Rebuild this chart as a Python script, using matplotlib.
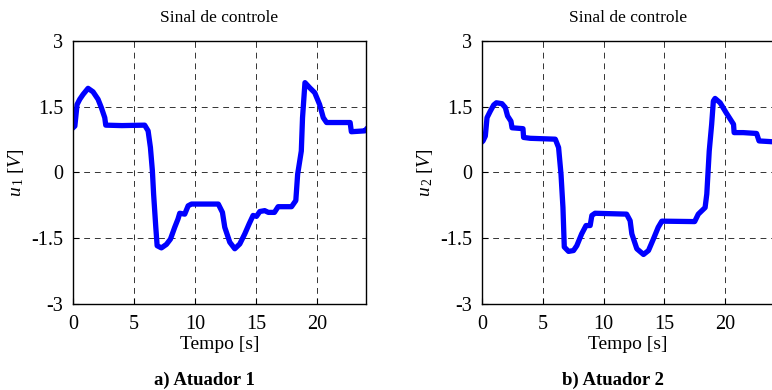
import numpy as np
from matplotlib import pyplot as plt

plt.rcParams['font.family'] = ['Liberation Serif', 'DejaVu Serif']
plt.rcParams['mathtext.fontset'] = 'custom'
plt.rcParams['mathtext.rm'] = 'Liberation Serif'
plt.rcParams['mathtext.it'] = 'Liberation Serif:italic'

# Atuador 1 - control signal
t1 = [0.0, 0.15, 0.33, 0.55, 0.82, 1.23, 1.64, 2.05, 2.32, 2.6, 2.68, 4.0, 5.87,
      6.15, 6.34, 6.5, 6.6, 6.78, 6.89, 7.24, 7.65, 7.98, 8.33, 8.6, 8.74, 9.15,
      9.43, 9.7, 11.9, 12.24, 12.43, 12.84, 13.25, 13.66, 14.07, 14.43, 14.75,
      15.03, 15.3, 15.7, 16.0, 16.5, 16.8, 17.9, 18.25, 18.4, 18.7, 18.8, 19.0,
      19.4, 19.8, 20.2, 20.5, 20.77, 22.7, 22.8, 23.9, 24.0]
u1 = [1.02, 1.06, 1.55, 1.67, 1.78, 1.92, 1.84, 1.67, 1.48, 1.25, 1.08, 1.07, 1.08,
      0.95, 0.57, 0.04, -0.49, -1.25, -1.67, -1.72, -1.64, -1.52, -1.25, -1.06, -0.93, -0.95,
      -0.76, -0.72, -0.72, -0.91, -1.25, -1.59, -1.74, -1.63, -1.40, -1.17, -0.98,
      -1.0, -0.89, -0.87, -0.91, -0.91, -0.78, -0.78, -0.64, -0.04, 0.49, 1.25, 2.05,
      1.93, 1.82, 1.55, 1.25, 1.14, 1.14, 0.93, 0.95, 0.98]

# Atuador 2
t2 = [0.0, 0.08, 0.27, 0.41, 0.68, 0.96, 1.18, 1.64, 1.92, 2.1, 2.38, 2.47, 3.37,
      3.42, 3.97, 6.03, 6.3, 6.5, 6.66, 6.77, 7.12, 7.53, 7.8, 8.2, 8.56, 8.9, 9.04,
      9.3, 11.9, 12.19, 12.33, 12.74, 13.29, 13.7, 14.1, 14.5, 14.8, 17.5, 17.8,
      18.36, 18.5, 18.7, 18.9, 19.04, 19.18, 19.6, 20.1, 20.7, 20.75, 21.5, 22.6,
      22.8, 24.0]
u2 = [0.70, 0.72, 0.83, 1.25, 1.40, 1.54, 1.59, 1.57, 1.48, 1.29, 1.17, 1.02, 1.0,
      0.80, 0.78, 0.76, 0.57, -0.04, -0.80, -1.70, -1.80, -1.78, -1.67, -1.40, -1.21, -1.21, -0.98,
      -0.93, -0.95, -1.10, -1.40, -1.74, -1.87, -1.78, -1.52, -1.25, -1.11, -1.12, -0.95,
      -0.80, -0.49, 0.49, 1.10, 1.63, 1.69, 1.59, 1.36, 1.10, 0.91, 0.91, 0.89,
      0.72, 0.70]

xticks = [0, 5, 10, 15, 20]
yticks = [-3, -1.5, 0, 1.5, 3]
yticklabels = ['-3', '-1.5', '0', '1.5', '3']

fig = plt.figure(figsize=(7.72, 3.9), dpi=100)
ax1 = fig.add_axes([0.0946, 0.2205, 0.3795, 0.6744])
ax2 = fig.add_axes([0.6244, 0.2205, 0.3777, 0.6744])

panels = [(ax1, t1, u1, '1', 'a) Atuador 1'), (ax2, t2, u2, '2', 'b) Atuador 2')]
for ax, t, u, k, cap in panels:
    ax.plot(t, u, color='#0000ff', lw=3.8, solid_joinstyle='round')
    ax.set_xlim(0, 24)
    ax.set_ylim(-3, 3)
    ax.set_xticks(xticks)
    ax.set_yticks(yticks)
    ax.set_yticklabels(yticklabels)
    ax.grid(True, color='black', linestyle=(0, (6, 5)), lw=0.7, alpha=0.8)
    ax.tick_params(direction='in', length=4, labelsize=14.5)
    ax.tick_params(axis='x', pad=8)
    ax.tick_params(axis='y', pad=7)
    for s in ax.spines.values():
        s.set_linewidth(1.0)
    ax.set_title('Sinal de controle', fontsize=12.5, pad=14)
    ax.set_xlabel('Tempo [s]', fontsize=14, labelpad=1)
    ax.set_ylabel(r'$u_{\,\mathit{' + k + r'}}\ [V]$', fontsize=14, labelpad=4)
    ax.text(0.45, -0.29, cap, transform=ax.transAxes, ha='center', va='center',
            fontsize=13.5, fontweight='bold')

fig.savefig('out.png', dpi=100)
